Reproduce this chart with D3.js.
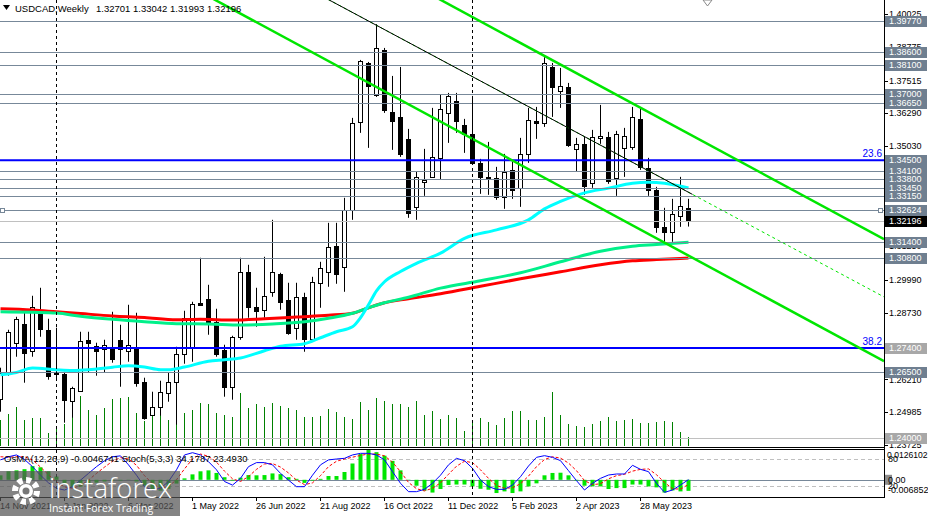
<!DOCTYPE html>
<html><head><meta charset="utf-8">
<script src="https://cdn.jsdelivr.net/npm/d3@7"></script>
<style>body{margin:0;background:#fff}svg{display:block}</style>
</head><body>
<script>
// ---------- DATA ----------
const symbolTitle = "USDCAD,Weekly";
const titleValues = "1.32701 1.33042 1.31993 1.32196";
const dateTickLabels = ["14 Nov 2021","9 Jan 2022","6 Mar 2022","1 May 2022","26 Jun 2022","21 Aug 2022","16 Oct 2022","11 Dec 2022","5 Feb 2023","2 Apr 2023","28 May 2023"];
const dateTickBars = [0,8,16,24,32,40,48,56,64,72,80];
const yearSeparatorBars = [7,59];
const priceTicks = [1.40025,1.38775,1.37515,1.36290,1.35030,1.31250,1.29990,1.28730,1.26210,1.24985,1.23725];

const open = [1.25482,1.26465,1.27599,1.28317,1.27296,1.28733,1.28090,1.26446,1.26427,1.25406,
1.25784,1.27712,1.27485,1.27372,1.27447,1.27712,1.27296,1.27410,1.26124,1.24877,
1.25179,1.25709,1.26124,1.27183,1.27447,1.29111,1.29262,1.28392,1.27334,1.25935,
1.27825,1.30282,1.28959,1.28846,1.29526,1.30207,1.29224,1.28166,1.29337,1.27750,
1.29867,1.30282,1.31265,1.30471,1.32626,1.35952,1.38183,1.36973,1.38674,1.36330,
1.36141,1.35310,1.32739,1.33684,1.33873,1.34592,1.36293,1.36746,1.35839,1.35499,
1.34403,1.33873,1.33836,1.33117,1.34138,1.33458,1.34743,1.35990,1.35915,1.38031,
1.37124,1.37275,1.34932,1.35121,1.33647,1.35310,1.35385,1.33836,1.34970,1.35007,
1.36066,1.34214,1.33382,1.31983,1.31794,1.32399,1.32701];
const high = [1.26654,1.28090,1.28581,1.28846,1.29375,1.29678,1.28506,1.28166,1.26500,1.25935,
1.28014,1.28014,1.27599,1.27712,1.28770,1.28279,1.29035,1.28733,1.26276,1.25746,
1.26162,1.26465,1.27447,1.28808,1.29148,1.30812,1.29791,1.28884,1.27523,1.27863,
1.30812,1.30547,1.29678,1.30849,1.32248,1.30245,1.29867,1.29867,1.29489,1.30093,
1.30660,1.32135,1.32135,1.33080,1.36104,1.38296,1.38220,1.39650,1.38750,1.37691,
1.38031,1.35688,1.34062,1.34932,1.36482,1.36973,1.37049,1.37049,1.36066,1.36935,
1.34554,1.35196,1.34251,1.34743,1.34440,1.35348,1.36482,1.36519,1.38400,1.38183,
1.37994,1.37427,1.35348,1.35385,1.35650,1.36595,1.35574,1.35612,1.35726,1.36519,
1.36444,1.34592,1.33495,1.32702,1.33042,1.33873,1.33042];
const low = [1.24990,1.26351,1.27069,1.26087,1.27069,1.27825,1.26200,1.26200,1.24575,1.24764,
1.25746,1.26465,1.26351,1.26465,1.26843,1.25935,1.26880,1.25935,1.24688,1.24839,
1.24839,1.25368,1.24499,1.26805,1.26880,1.28997,1.27901,1.27069,1.25557,1.25444,
1.27712,1.28544,1.28203,1.28544,1.29337,1.28846,1.27901,1.27712,1.27258,1.27712,
1.28922,1.29715,1.29829,1.29526,1.32248,1.35537,1.34970,1.36897,1.36293,1.34894,
1.34629,1.32324,1.32248,1.33155,1.33836,1.33760,1.35159,1.35537,1.34781,1.34327,
1.33231,1.33193,1.33004,1.32664,1.33042,1.32739,1.34403,1.35310,1.35763,1.36141,
1.36482,1.35007,1.34062,1.33193,1.33458,1.35121,1.33609,1.33155,1.33873,1.34894,
1.34138,1.33155,1.31757,1.31416,1.31416,1.31983,1.31993];
const close = [1.26465,1.28014,1.28506,1.27221,1.28959,1.28128,1.26351,1.26408,1.25444,1.25898,
1.27674,1.27599,1.27296,1.27523,1.26994,1.27372,1.27523,1.26087,1.24764,1.25179,
1.25746,1.26124,1.27183,1.28544,1.29073,1.29035,1.28392,1.27183,1.25935,1.27825,
1.30282,1.28959,1.28808,1.29375,1.30282,1.29148,1.27977,1.29337,1.27750,1.29904,
1.30434,1.31227,1.30207,1.32626,1.35915,1.38258,1.37313,1.38750,1.36406,1.35990,
1.34743,1.32513,1.33873,1.33760,1.34629,1.36444,1.36935,1.35990,1.35499,1.34403,
1.33873,1.33817,1.33117,1.34062,1.33382,1.34743,1.36028,1.35915,1.38183,1.37275,
1.37313,1.35083,1.35121,1.33533,1.35385,1.35404,1.33722,1.35499,1.35423,1.36141,
1.34251,1.33382,1.31983,1.31794,1.32475,1.32777,1.32196];
const tickVolume = [26,32,39,26,28,28,13,20,22,42,50,36,31,38,47,48,49,33,25,30,
32,26,26,33,36,43,42,33,31,29,53,38,42,39,43,40,38,36,29,29,
30,37,34,29,27,44,36,48,45,42,42,39,45,31,35,27,31,28,15,26,
28,24,21,28,35,35,26,26,29,54,31,22,20,19,22,25,29,25,26,27,
23,23,24,25,24,14,9];

// moving averages: [bar, price]
const maFast = [[0,1.26389],[2,1.26476],[4,1.26642],[7,1.26578],[9,1.26552],[11,1.26578],[14,1.26673],[16,1.26729],[18,1.26680],[20,1.26578],[21,1.26578],[23,1.26680],[26,1.26899],[28,1.26956],[30,1.27020],[33,1.27296],[35,1.27466],[38,1.27561],[40,1.27788],[42,1.28014],[44,1.28203],[45,1.28544],[46,1.29035],[47,1.29564],[48,1.29904],[50,1.30294],[52,1.30604],[55,1.30989],[58,1.31549],[62,1.31870],[66,1.32248],[68,1.32664],[70,1.32947],[73,1.33269],[76,1.33446],[79,1.33628],[81,1.33666],[83,1.33628],[86,1.33450]];
const maMid = [[0,1.28770],[4,1.28748],[7,1.28721],[10,1.28600],[14,1.28483],[18,1.28392],[22,1.28321],[26,1.28309],[30,1.28268],[34,1.28309],[38,1.28392],[41,1.28525],[44,1.28714],[46,1.28922],[48,1.29111],[51,1.29319],[55,1.29666],[60,1.29942],[65,1.30245],[70,1.30660],[75,1.31057],[79,1.31246],[82,1.31311],[86,1.31400]];
const maSlow = [[0,1.28884],[4,1.28838],[7,1.28770],[10,1.28702],[14,1.28612],[18,1.28551],[22,1.28468],[25,1.28487],[29,1.28457],[33,1.28506],[37,1.28574],[41,1.28638],[44,1.28714],[46,1.28922],[48,1.29111],[51,1.29262],[55,1.29451],[60,1.29734],[65,1.30018],[70,1.30282],[75,1.30547],[79,1.30698],[82,1.30744],[86,1.30800]];

// horizontal levels
const slateLevels = [1.3977,1.3860,1.3810,1.3700,1.3665,1.3450,1.3410,1.3380,1.3345,1.3315,1.32624,1.3140,1.3080,1.2650];
const fiboLevels = [1.3450,1.2740];
const fiboLabels = ["23.6","38.2"];
const greyLevels = [1.2740,1.2400];
const lastPrice = 1.32196;

// trend lines: two anchors [bar, price]
const channelUpper = [[64,1.39101],[87,1.35343]];
const channelLower = [[54,1.36125],[86,1.30895]];
const resistanceLine = [[54,1.38472],[86,1.33290]];

// indicator window
const osmaTitle = "OsMA(12,26,9) -0.0046741  Stoch(5,3,3) 34.1787 23.4930";
const osma = [0.0019,0.0036,0.0040,0.0045,0.0058,0.0053,0.0036,0.0014,-0.0016,-0.0033,
-0.0029,-0.0020,-0.0012,-0.0007,-0.0003,-0.0003,0.0001,-0.0007,-0.0025,-0.0042,
-0.0046,-0.0038,-0.0016,0.0006,0.0023,0.0036,0.0040,0.0029,0.0011,-0.0003,
0.0009,0.0020,0.0019,0.0020,0.0027,0.0024,0.0011,0.0004,-0.0013,-0.0003,
0.0004,0.0016,0.0016,0.0033,0.0069,0.0109,0.0126,0.0117,0.0102,0.0080,
0.0040,0.0001,-0.0025,-0.0046,-0.0054,-0.0039,-0.0022,-0.0020,-0.0020,-0.0028,
-0.0038,-0.0042,-0.0056,-0.0049,-0.0056,-0.0049,-0.0028,-0.0015,0.0019,0.0029,
0.0030,0.0019,-0.0003,-0.0025,-0.0028,-0.0028,-0.0039,-0.0035,-0.0035,-0.0020,
-0.0020,-0.0028,-0.0032,-0.0054,-0.0045,-0.0049,-0.0046741];
const stochMain = [78,85,89,79,63,44,27,15,11,18.5,
33,48,63,76,85,87,67,44,18.5,11,
15,30,56,89,94,89,74,56,30,22,
37,63,72,72,67,48,33,18.5,18.5,44,
67,78,80,81.5,89,92.6,92.6,89,78,52,
26,7.4,7.4,12.6,26,44,67,81.5,76.3,59.3,
33.3,18.5,12.6,12.6,22,40.7,64.4,83.7,87.4,83.7,
76.3,54,31.9,11.1,25.9,37,44.4,46.7,46.7,66,
57,51.9,25.9,5.9,11.1,22.2,34.18];
const stochSignal = [85,84,85,85,78,62,45,29,18,15,
21,33,48,62,75,83,80,66,43,25,
15,19,34,58,80,91,86,73,53,36,
30,41,57,69,70,62,49,33,23,27,
43,63,75,80,84,88,91,91,87,73,
52,28,14,9,15,27,46,64,75,72,
56,37,21,15,16,25,42,63,79,85,
82,71,54,32,23,25,36,43,46,53,
57,58,45,28,14,13,23.49];
const osmaRange = [-0.006852, 0.0126102];
const stochLevels = [80, 20];

// ---------- DRAWING ----------
const W = 928, H = 516;
const PR = 884;          // right edge of plots
const MB = 447;          // main plot bottom
const PT = 450, PB = 497; // indicator panel
const FONT = '"Liberation Sans", Arial, sans-serif';

const svg = d3.select("body").append("svg").attr("width", W).attr("height", H)
  .style("font-family", FONT);

const x = d3.scaleLinear().domain([0, 110]).range([0.5, 880.5]);
const y = d3.scaleLinear().domain([1.23655, 1.40563]).range([MB, 0]);
const yVol = d3.scaleLinear().domain([0, 60]).range([MB - 1, MB - 61]);
const yStoch = d3.scaleLinear().domain([0, 100]).range([495, 450]);
const yOsma = d3.scaleLinear().domain(osmaRange).range([496, 450]);

const defs = svg.append("defs");
defs.append("clipPath").attr("id", "cm").append("rect").attr("x", 0).attr("y", 0).attr("width", PR).attr("height", MB);
defs.append("clipPath").attr("id", "cp").append("rect").attr("x", 0).attr("y", PT).attr("width", PR).attr("height", PB - PT);

const main = svg.append("g").attr("clip-path", "url(#cm)");
const panel = svg.append("g").attr("clip-path", "url(#cp)");

const bars = open.map((o, i) => ({ i, o, h: high[i], l: low[i], c: close[i], v: tickVolume[i] }));
const px = i => Math.round(x(i) - 0.5) + 0.5;

// volumes
main.append("g").selectAll("line").data(bars).join("line")
  .attr("x1", d => px(d.i)).attr("x2", d => px(d.i))
  .attr("y1", yVol(0)).attr("y2", d => yVol(d.v))
  .attr("stroke", "#008000").attr("stroke-width", 1);

// candles
const cg = main.append("g");
cg.selectAll("line").data(bars).join("line")
  .attr("x1", d => px(d.i)).attr("x2", d => px(d.i))
  .attr("y1", d => y(d.h)).attr("y2", d => y(d.l))
  .attr("stroke", "#000").attr("stroke-width", 1);
cg.selectAll("rect").data(bars).join("rect")
  .attr("x", d => px(d.i) - 2).attr("width", 4)
  .attr("y", d => Math.round(Math.min(y(d.o), y(d.c))) + 0.5)
  .attr("height", d => Math.max(1, Math.round(Math.abs(y(d.o) - y(d.c)))))
  .attr("fill", d => d.c >= d.o ? "#fff" : "#000")
  .attr("stroke", "#000").attr("stroke-width", 1);

// moving averages
const maLine = d3.line().x(d => x(d[0])).y(d => y(d[1])).curve(d3.curveMonotoneX);
main.append("path").attr("d", maLine(maSlow)).attr("fill", "none").attr("stroke", "#ff0000").attr("stroke-width", 3);
main.append("path").attr("d", maLine(maMid)).attr("fill", "none").attr("stroke", "#00f08a").attr("stroke-width", 3);
main.append("path").attr("d", maLine(maFast)).attr("fill", "none").attr("stroke", "#00ffff").attr("stroke-width", 3);

// horizontal levels
const lv = main.append("g");
slateLevels.forEach(p => {
  lv.append("line").attr("x1", 0).attr("x2", PR).attr("y1", Math.round(y(p)) + 0.5).attr("y2", Math.round(y(p)) + 0.5)
    .attr("stroke", "#778899").attr("stroke-width", 1);
});
[1.2400, lastPrice].forEach(p => {
  lv.append("line").attr("x1", 0).attr("x2", PR).attr("y1", Math.round(y(p)) + 0.5).attr("y2", Math.round(y(p)) + 0.5)
    .attr("stroke", "#c0c0c0").attr("stroke-width", 1);
});
fiboLevels.forEach((p, k) => {
  lv.append("line").attr("x1", 0).attr("x2", PR).attr("y1", y(p)).attr("y2", y(p))
    .attr("stroke", "#0000ff").attr("stroke-width", 2);
  lv.append("text").attr("x", PR - 2).attr("y", y(p) - 3).attr("text-anchor", "end")
    .attr("font-size", 10).attr("fill", "#0000ff").text(fiboLabels[k]);
});
// anchor squares of the 1.32624 line
[[0.5, 1.32624], [878.5, 1.32624]].forEach(([sx, p]) => {
  lv.append("rect").attr("x", sx).attr("y", Math.round(y(p)) - 1.5).attr("width", 4).attr("height", 4)
    .attr("fill", "#fff").attr("stroke", "#778899");
});

// trend lines
function extend(a) {
  const X1 = x(a[0][0]), Y1 = y(a[0][1]), X2 = x(a[1][0]), Y2 = y(a[1][1]);
  const m = (Y2 - Y1) / (X2 - X1);
  return { m, at: X => Y1 + (X - X1) * m };
}
const tl = main.append("g");
[channelUpper, channelLower].forEach(a => {
  const e = extend(a);
  tl.append("line").attr("x1", 0).attr("y1", e.at(0)).attr("x2", PR).attr("y2", e.at(PR))
    .attr("stroke", "#00e600").attr("stroke-width", 2.5);
});
{
  const e = extend(resistanceLine);
  tl.append("line").attr("x1", 0).attr("y1", e.at(0)).attr("x2", PR).attr("y2", e.at(PR))
    .attr("stroke", "#00e600").attr("stroke-width", 1).attr("stroke-dasharray", "3,3");
  const xe = x(86.5);
  tl.append("line").attr("x1", 0).attr("y1", e.at(0)).attr("x2", xe).attr("y2", e.at(xe))
    .attr("stroke", "#000").attr("stroke-width", 1);
}

// indicator panel
stochLevels.forEach(v => {
  panel.append("line").attr("x1", 0).attr("x2", PR).attr("y1", Math.round(yStoch(v)) + 0.5).attr("y2", Math.round(yStoch(v)) + 0.5)
    .attr("stroke", "#c0c0c0").attr("stroke-dasharray", "4,3");
});
panel.append("line").attr("x1", 0).attr("x2", PR).attr("y1", Math.round(yOsma(0)) + 0.5).attr("y2", Math.round(yOsma(0)) + 0.5)
  .attr("stroke", "#778899");
panel.append("g").selectAll("rect").data(osma).join("rect")
  .attr("x", (d, i) => px(i) - 2).attr("width", 4)
  .attr("y", d => Math.min(yOsma(d), yOsma(0)))
  .attr("height", d => Math.abs(yOsma(d) - yOsma(0)))
  .attr("fill", "#00e600");
const sl = d3.line().x((d, i) => x(i)).y(d => yStoch(d));
panel.append("path").attr("d", sl(stochSignal)).attr("fill", "none").attr("stroke", "#ff0000").attr("stroke-dasharray", "3,2");
panel.append("path").attr("d", sl(stochMain)).attr("fill", "none").attr("stroke", "#0000ff");

// year separators
yearSeparatorBars.forEach(b => {
  const sx = px(b);
  svg.append("line").attr("x1", sx).attr("x2", sx).attr("y1", 0).attr("y2", PB)
    .attr("stroke", "#000").attr("stroke-dasharray", "3,3");
});

// frames
svg.append("line").attr("x1", PR + 0.5).attr("x2", PR + 0.5).attr("y1", 0).attr("y2", PB + 1).attr("stroke", "#000");
svg.append("line").attr("x1", 0).attr("x2", PR).attr("y1", MB + 0.5).attr("y2", MB + 0.5).attr("stroke", "#000");
svg.append("line").attr("x1", 0).attr("x2", PR).attr("y1", PT - 0.5).attr("y2", PT - 0.5).attr("stroke", "#000");
svg.append("line").attr("x1", 0).attr("x2", PR).attr("y1", PB + 0.5).attr("y2", PB + 0.5).attr("stroke", "#000");

// price axis
const ax = svg.append("g").attr("font-size", 9).attr("fill", "#000");
priceTicks.forEach(p => {
  ax.append("line").attr("x1", PR).attr("x2", PR + 4).attr("y1", Math.round(y(p)) + 0.5).attr("y2", Math.round(y(p)) + 0.5).attr("stroke", "#000");
  ax.append("text").attr("x", PR + 5).attr("y", y(p)).attr("dy", "0.35em").text(p.toFixed(5));
});
function box(p, fill, txt) {
  const cy = Math.round(y(p));
  ax.append("rect").attr("x", PR + 1).attr("y", cy - 5).attr("width", 42).attr("height", 11).attr("fill", fill);
  ax.append("text").attr("x", PR + 5).attr("y", cy).attr("dy", "0.36em").attr("fill", "#fff").text(txt);
}
const allBoxes = slateLevels.map(p => ({ p, f: "#6f7f90" }))
  .concat([{ p: 1.2740, f: "#a8a8a8" }, { p: 1.2400, f: "#a8a8a8" }])
  .sort((a, b) => b.p - a.p);
allBoxes.forEach(b => box(b.p, b.f, b.p.toFixed(5)));
box(lastPrice, "#000", lastPrice.toFixed(5));

// indicator axis labels
const ia = svg.append("g").attr("font-size", 9);
ia.append("text").attr("x", PR + 3).attr("y", 455).attr("dy", "0.35em").attr("font-size", 8.6).text(osmaRange[1].toFixed(7));
ia.append("text").attr("x", PR + 4).attr("y", yStoch(80)).attr("dy", "0.35em").text("80");
ia.append("rect").attr("x", PR + 1).attr("y", yOsma(0) - 5).attr("width", 7).attr("height", 10).attr("fill", "#8c8c8c");
ia.append("text").attr("x", PR + 4).attr("y", yOsma(0)).attr("dy", "0.35em").text("0.00");
ia.append("text").attr("x", PR + 4).attr("y", yStoch(20)).attr("dy", "0.35em").text("20");
ia.append("text").attr("x", PR + 4).attr("y", 490).attr("dy", "0.35em").text(osmaRange[0].toFixed(6));
svg.append("text").attr("x", 4).attr("y", 462).attr("font-size", 9.5).text(osmaTitle);

// time axis
const ta = svg.append("g").attr("font-size", 9);
dateTickBars.forEach((b, k) => {
  ta.append("line").attr("x1", px(b)).attr("x2", px(b)).attr("y1", PB).attr("y2", PB + 4).attr("stroke", "#000");
  ta.append("text").attr("x", px(b) - 0.5).attr("y", 509).text(dateTickLabels[k]);
});

// title
svg.append("path").attr("d", "M3,5 L10,5 L6.5,10 Z").attr("fill", "#000");
svg.append("text").attr("x", 15).attr("y", 12).attr("font-size", 9.5).text(symbolTitle);
svg.append("text").attr("x", 96).attr("y", 12).attr("font-size", 9.5).text(titleValues);
svg.append("path").attr("d", "M703,0 L712,0 L707.5,6 Z").attr("fill", "#fff").attr("stroke", "#888");

// watermark
const lg = svg.append("g");
lg.append("rect").attr("x", 0).attr("y", 471).attr("width", 180).attr("height", 45).attr("fill", "#555").attr("opacity", 0.72);
const gear = lg.append("g").attr("transform", "translate(26,491)");
gear.append("circle").attr("r", 11).attr("fill", "none").attr("stroke", "#fff").attr("stroke-width", 6).attr("stroke-dasharray", "5,3.6");
gear.append("circle").attr("r", 7).attr("fill", "#fff");
gear.append("circle").attr("r", 3.5).attr("fill", "#777");
lg.append("text").attr("x", 49).attr("y", 498).attr("font-family", '"Open Sans", sans-serif').attr("font-weight", 300)
  .attr("font-size", 27.5).attr("fill", "#fff").text("instaforex");
lg.append("text").attr("x", 49).attr("y", 512).attr("font-family", '"Open Sans", sans-serif')
  .attr("font-size", 10.5).attr("fill", "#fff").text("Instant Forex Trading");
</script>
</body></html>
